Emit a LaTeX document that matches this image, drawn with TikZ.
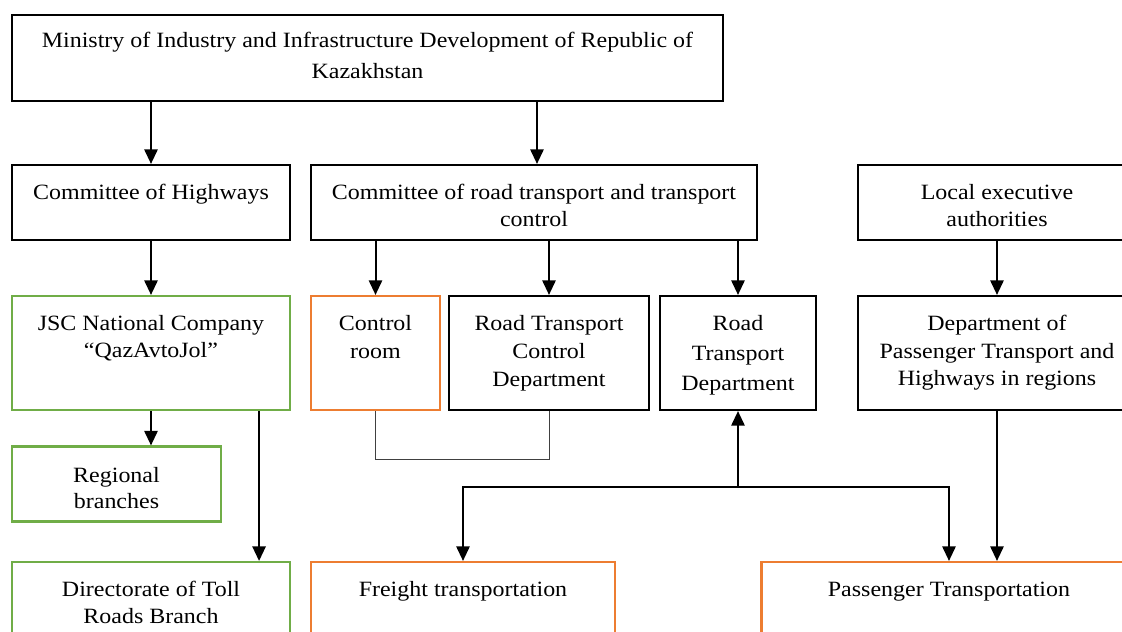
\documentclass[tikz,border=0pt]{standalone}
\usepackage{fontspec}
\setmainfont{Liberation Serif}[FakeStretch=1.1]
\usetikzlibrary{arrows.meta,fit,calc}
\definecolor{grn}{HTML}{70AD47}
\definecolor{org}{HTML}{ED7D31}
\newcommand\bt[2][20.4pt]{\parbox[t]{560pt}{\centering\fontsize{16.35pt}{#1}\selectfont #2}}
\begin{document}
\begin{tikzpicture}[x=0.75pt,y=-0.75pt,
  box/.style={draw=black, line width=1.6pt, inner sep=0pt},
  gbox/.style={draw=grn, line width=1.6pt, inner sep=0pt},
  obox/.style={draw=org, line width=1.6pt, inner sep=0pt},
  txt/.style={anchor=base, inner sep=0pt},
  arr/.style={line width=1.5pt, -{Triangle[length=11pt,width=10pt]}},
  thinline/.style={line width=0.75pt, draw=black!75}]
\useasboundingbox (0,0) rectangle (1122,632);
\clip (0,0) rectangle (1122,632);

% boxes
\node[box,  fit={(12,15) (723,101)}] (min) {};
\node[box,  fit={(12,165) (290,240)}] (chw) {};
\node[box,  fit={(311,165) (757,240)}] (crt) {};
\node[box,  fit={(858,165) (1136,240)}] (loc) {};
\node[gbox, fit={(12,296) (290,410)}] (jsc) {};
\node[obox, fit={(311,296) (440,410)}] (ctrl) {};
\node[box,  fit={(449,296) (649,410)}] (rtcd) {};
\node[box,  fit={(660,296) (816,410)}] (rtd) {};
\node[box,  fit={(858,296) (1136,410)}] (dep) {};
\node[gbox, fit={(12,446.5) (221,521.5)}] (reg) {};
\node[gbox, fit={(12,562) (290,660)}] (dir) {};
\node[obox, fit={(311,562) (615,660)}] (fr) {};
\node[obox, fit={(761.5,562) (1136.5,660)}] (pas) {};

% texts
\node[txt] (tmin) at ([yshift=-25.5pt]min.north) {\bt[23.25pt]{Ministry of Industry and Infrastructure Development of Republic of\\Kazakhstan}};
\node[txt] (tchw) at ([yshift=-27pt]chw.north) {\bt{Committee of Highways}};
\node[txt] (tcrt) at ([yshift=-27pt]crt.north) {\bt[19.8pt]{Committee of road transport and transport\\control}};
\node[txt] (tloc) at ([yshift=-27pt]loc.north) {\bt[19.8pt]{Local executive\\authorities}};
\node[txt] (tjsc) at ([yshift=-27pt]jsc.north) {\bt[20pt]{JSC National Company\\“QazAvtoJol”}};
\node[txt] (tctrl) at ([yshift=-27pt]ctrl.north) {\bt[20.4pt]{Control\\room}};
\node[txt] (trtcd) at ([yshift=-27pt]rtcd.north) {\bt[21pt]{Road Transport\\Control\\Department}};
\node[txt] (trtd) at ([yshift=-27pt]rtd.north) {\bt[22.5pt]{Road\\Transport\\Department}};
\node[txt] (tdep) at ([yshift=-27pt]dep.north) {\bt[20.6pt]{Department of\\Passenger Transport and\\Highways in regions}};
\node[txt] (treg) at ([yshift=-27.5pt]reg.north) {\bt[19.5pt]{Regional\\branches}};
\node[txt] (tdir) at ([yshift=-27pt]dir.north) {\bt[20pt]{Directorate of Toll\\Roads Branch}};
\node[txt] (tfr) at ([yshift=-27pt]fr.north) {\bt{Freight transportation}};
\node[txt] (tpas) at ([yshift=-27pt]pas.north) {\bt{Passenger Transportation}};

% helper coordinates
\coordinate (c1) at ($(crt.north)+(3,0)$);
\coordinate (c2) at ($(jsc.south east)+(-32,0)$);
\coordinate (j) at ($(rtd.south)+(0,76)$);

% connectors
\draw[arr] (min.south -| chw.north) -- (chw.north);
\draw[arr] (c1 |- min.south) -- (c1);
\draw[arr] (chw.south) -- (jsc.north);
\draw[arr] (crt.south -| ctrl.north) -- (ctrl.north);
\draw[arr] (crt.south -| rtcd.north) -- (rtcd.north);
\draw[arr] (crt.south -| rtd.north) -- (rtd.north);
\draw[arr] (loc.south) -- (dep.north);
\draw[arr] (jsc.south) -- (reg.north -| jsc.south);
\draw[arr] (c2) -- (dir.north -| c2);
\draw[thinline] (ctrl.south) -- ([yshift=-36pt]ctrl.south) -| (rtcd.south);
\draw[arr] (j) -- (rtd.south);
\draw[arr] (j) -| (fr.north);
\draw[arr] (j) -| (pas.north);
\draw[arr] (dep.south) -- (pas.north -| dep.south);
\end{tikzpicture}
\end{document}
